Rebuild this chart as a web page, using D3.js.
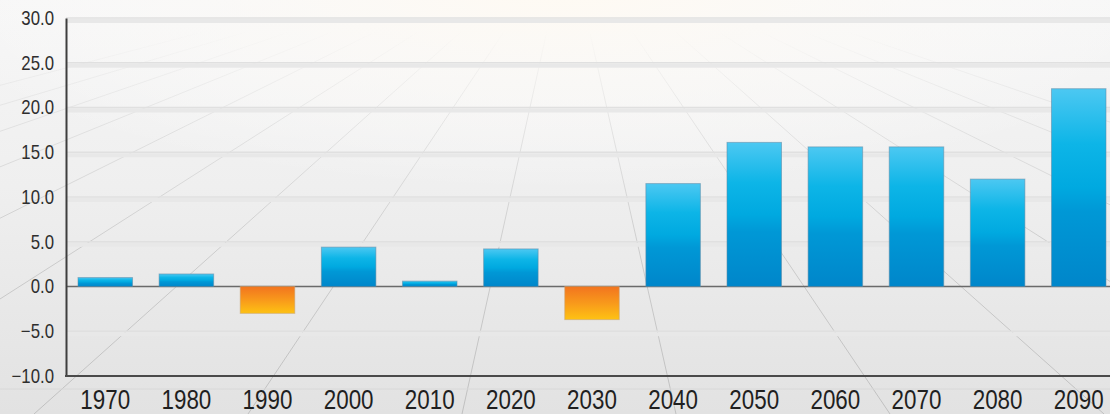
<!DOCTYPE html>
<html>
<head>
<meta charset="utf-8">
<script src="https://cdn.jsdelivr.net/npm/d3@7/dist/d3.min.js"></script>
<style>
  html, body { margin: 0; padding: 0; background: #ececec; overflow: hidden; }
  svg { display: block; }
  .tick text { font-family: "Liberation Sans", Arial, sans-serif; }
</style>
</head>
<body>
<svg id="chart" width="1110" height="414"></svg>
<script>
// Decade labels along the category axis
const years = ["1970", "1980", "1990", "2000", "2010", "2020", "2030",
               "2040", "2050", "2060", "2070", "2080", "2090"];
// Change per decade
const values = [1.0, 1.4, -3.0, 4.4, 0.6, 4.2, -3.7,
                11.5, 16.1, 15.6, 15.6, 12.0, 22.1];
// Value axis ticks
const yTicks = [-10, -5, 0, 5, 10, 15, 20, 25, 30];

const W = 1110, H = 414;
const svg = d3.select("#chart");
const defs = svg.append("defs");

// ---- background: soft vertical fade with a bright glow at the top ----
const bg = defs.append("linearGradient").attr("id", "bg")
  .attr("x1", 0).attr("y1", 0).attr("x2", 0).attr("y2", 1);
bg.append("stop").attr("offset", 0).attr("stop-color", "#f6f6f6");
bg.append("stop").attr("offset", 0.45).attr("stop-color", "#efefef");
bg.append("stop").attr("offset", 1).attr("stop-color", "#e2e2e2");

const glow = defs.append("radialGradient").attr("id", "glow")
  .attr("gradientUnits", "userSpaceOnUse")
  .attr("cx", 560).attr("cy", -20).attr("r", 420)
  .attr("gradientTransform", "translate(560,-20) scale(1.6,0.5) translate(-560,20)");
glow.append("stop").attr("offset", 0).attr("stop-color", "#fffaf2").attr("stop-opacity", 1);
glow.append("stop").attr("offset", 0.5).attr("stop-color", "#fdfbf8").attr("stop-opacity", 0.6);
glow.append("stop").attr("offset", 1).attr("stop-color", "#ffffff").attr("stop-opacity", 0);

svg.append("rect").attr("width", W).attr("height", H).attr("fill", "url(#bg)");
svg.append("rect").attr("width", W).attr("height", H).attr("fill", "url(#glow)");

// ---- perspective floor lines fading towards the horizon ----
const fade = defs.append("linearGradient").attr("id", "fade")
  .attr("gradientUnits", "userSpaceOnUse")
  .attr("x1", 0).attr("y1", 30).attr("x2", 0).attr("y2", 414);
fade.append("stop").attr("offset", 0).attr("stop-color", "#c8c8c8").attr("stop-opacity", 0);
fade.append("stop").attr("offset", 0.25).attr("stop-color", "#c8c8c8").attr("stop-opacity", 0.4);
fade.append("stop").attr("offset", 0.6).attr("stop-color", "#c0c0c0").attr("stop-opacity", 0.75);
fade.append("stop").attr("offset", 1).attr("stop-color", "#bcbcbc").attr("stop-opacity", 0.9);

const vanish = [568, -64];
const floorFeet = d3.range(-6, 10).map(k => 34 + 214 * k);
svg.append("g").selectAll("line").data(floorFeet).join("line")
  .attr("x1", vanish[0]).attr("y1", vanish[1])
  .attr("x2", d => d).attr("y2", H)
  .attr("stroke", "url(#fade)")
  .attr("stroke-width", 1);

// ---- scales ----
const margin = { left: 66, top: 18, bottom: 376 };
const x = d3.scaleBand()
  .domain(years)
  .range([margin.left, 1118])
  .paddingInner(0.328)
  .paddingOuter(0.148);
const y = d3.scaleLinear()
  .domain([-10, 30])
  .range([margin.bottom, margin.top]);

// ---- horizontal grid lines ----
const gridTicks = yTicks.filter(t => t !== -10 && t !== 0);
const grid = svg.append("g");
grid.selectAll("line.g2").data(gridTicks).join("line")
  .attr("class", "g2")
  .attr("x1", margin.left).attr("x2", W)
  .attr("y1", d => y(d) + 3).attr("y2", d => y(d) + 3)
  .attr("stroke", "#e8e8e8").attr("stroke-width", 4);
grid.selectAll("line.g1").data(gridTicks).join("line")
  .attr("class", "g1")
  .attr("x1", margin.left).attr("x2", W)
  .attr("y1", d => y(d)).attr("y2", d => y(d))
  .attr("stroke", "#e0e0e0").attr("stroke-width", 1.5);
// faint floor line below the category axis
svg.append("line").attr("x1", 0).attr("x2", W)
  .attr("y1", 389).attr("y2", 389).attr("stroke", "#d8d8d8").attr("stroke-width", 1);

// ---- zero baseline ----
svg.append("line")
  .attr("x1", margin.left).attr("x2", W)
  .attr("y1", y(0)).attr("y2", y(0))
  .attr("stroke", "#6a6a6a").attr("stroke-width", 1.5);

// ---- bar gradients ----
const blue = defs.append("linearGradient").attr("id", "blue")
  .attr("x1", 0).attr("y1", 0).attr("x2", 0).attr("y2", 1);
[[0, "#4cc8f2"], [0.28, "#0db5e7"], [0.5, "#00a9e0"], [0.62, "#0098d6"], [1, "#0086ca"]]
  .forEach(([o, c]) => blue.append("stop").attr("offset", o).attr("stop-color", c));
const orange = defs.append("linearGradient").attr("id", "orange")
  .attr("x1", 0).attr("y1", 0).attr("x2", 0).attr("y2", 1);
[[0, "#f2741f"], [0.5, "#f8991b"], [1, "#fec213"]]
  .forEach(([o, c]) => orange.append("stop").attr("offset", o).attr("stop-color", c));

// ---- bars ----
const data = years.map((yr, i) => ({ yr, v: values[i] }));
svg.append("g").selectAll("rect").data(data).join("rect")
  .attr("x", d => x(d.yr))
  .attr("width", x.bandwidth())
  .attr("y", d => y(Math.max(0, d.v)))
  .attr("height", d => Math.abs(y(d.v) - y(0)))
  .attr("fill", d => d.v >= 0 ? "url(#blue)" : "url(#orange)")
  .attr("stroke", d => d.v >= 0 ? "#5e8aa6" : "#c9a070")
  .attr("stroke-opacity", 0.55)
  .attr("stroke-width", 1);

// ---- axes ----
const yAxis = svg.append("g")
  .attr("transform", `translate(${margin.left},0)`)
  .call(d3.axisLeft(y).tickValues(yTicks).tickFormat(d3.format(".1f")).tickSize(0).tickPadding(0));
yAxis.select(".domain").attr("stroke", "#3e3e3e").attr("stroke-width", 2);
// condensed lettering: right-aligned at x = -12, squeezed horizontally
yAxis.selectAll(".tick text")
  .attr("x", 0)
  .attr("font-size", 20).attr("fill", "#2e2e2e")
  .attr("transform", "translate(-12,0) scale(0.84,1)");

const xAxis = svg.append("g")
  .attr("transform", `translate(0,${margin.bottom})`)
  .call(d3.axisBottom(x).tickSize(0).tickPadding(0));
xAxis.select(".domain").remove();
xAxis.selectAll(".tick text").attr("font-size", 28).attr("fill", "#1f1f1f")
  .attr("y", 0).attr("dy", 0)
  .attr("transform", "translate(0,33) scale(0.8,1)");
svg.append("line")
  .attr("x1", margin.left - 1).attr("x2", W)
  .attr("y1", margin.bottom).attr("y2", margin.bottom)
  .attr("stroke", "#4a4a4a").attr("stroke-width", 2);
</script>
</body>
</html>
